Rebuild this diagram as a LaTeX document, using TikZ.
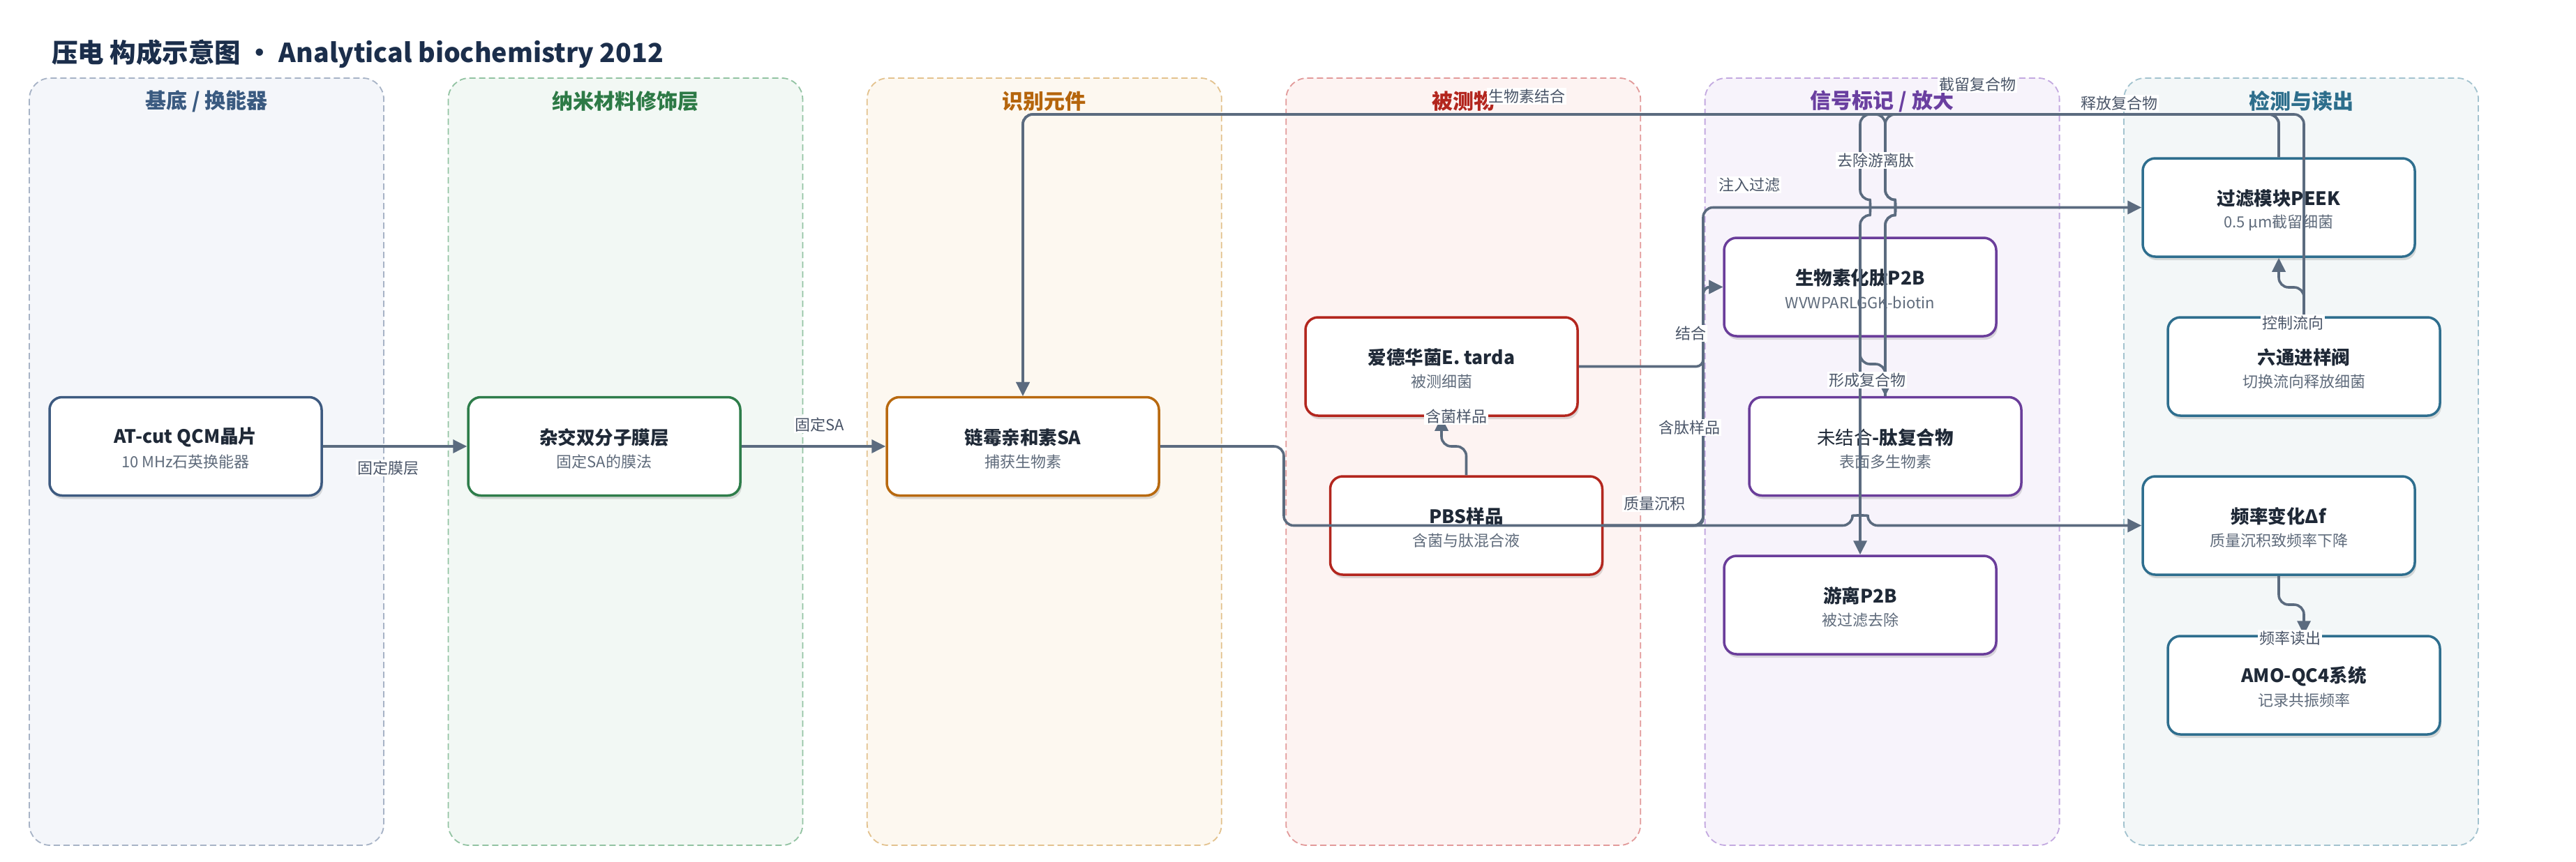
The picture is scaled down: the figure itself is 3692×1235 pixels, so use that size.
\documentclass[tikz,border=0pt]{standalone}
\usepackage{fontspec}
\setmainfont{Noto Sans CJK SC}
\usetikzlibrary{arrows.meta,shadows}
\definecolor{edgec}{HTML}{5B6B7F}
\definecolor{titlec}{HTML}{1B2E4B}
\definecolor{nodetxt}{HTML}{1F2937}
\definecolor{subtxt}{HTML}{5F6B7B}
\definecolor{lbltxt}{HTML}{4A5568}
\definecolor{laAf}{HTML}{F4F6FA}\definecolor{laAd}{HTML}{A7B3C6}\definecolor{laAt}{HTML}{3A5A80}
\definecolor{laBf}{HTML}{F2F8F4}\definecolor{laBd}{HTML}{92C3A2}\definecolor{laBt}{HTML}{2D7A46}
\definecolor{laCf}{HTML}{FDF8F0}\definecolor{laCd}{HTML}{E3C28E}\definecolor{laCt}{HTML}{B5650C}
\definecolor{laDf}{HTML}{FDF3F2}\definecolor{laDd}{HTML}{E29A9A}\definecolor{laDt}{HTML}{B3261E}
\definecolor{laEf}{HTML}{F7F3FB}\definecolor{laEd}{HTML}{C3A9E0}\definecolor{laEt}{HTML}{6A3FA0}
\definecolor{laFf}{HTML}{F3F7F8}\definecolor{laFd}{HTML}{A3C3CF}\definecolor{laFt}{HTML}{2D6E8C}
\definecolor{nA}{HTML}{3D5A80}
\definecolor{nB}{HTML}{2E7D4A}
\definecolor{nC}{HTML}{B8690F}
\definecolor{nD}{HTML}{B3261E}
\definecolor{nE}{HTML}{6A3D9A}
\definecolor{nF}{HTML}{2E6E8E}
\begin{document}
\begin{tikzpicture}[x=1pt,y=-1pt,
  lanebox/.style={dash pattern=on 9pt off 5pt, line width=1.8pt, rounded corners=30pt},
  lanettl/.style={font=\fontsize{30pt}{34pt}\selectfont\bfseries, inner sep=0pt},
  box/.style={draw=#1, line width=3.5pt, fill=white, rounded corners=18pt, minimum width=390pt, minimum height=141pt, inner sep=0pt, drop shadow={shadow xshift=2pt,shadow yshift=-5pt,opacity=0.13,fill=black}},
  ttl/.style={font=\fontsize{26.5pt}{30pt}\selectfont\bfseries, text=nodetxt, inner sep=0pt},
  sub/.style={font=\fontsize{22pt}{26pt}\selectfont, text=subtxt, inner sep=0pt},
  conn/.style={draw=edgec, line width=3.6pt, rounded corners=14pt},
  arr/.style={conn, -{Triangle[length=20pt,width=19pt]}},
  lbl/.style={fill=white, inner sep=2pt, font=\fontsize{22pt}{26pt}\selectfont, text=lbltxt},
]
\useasboundingbox (0,0) rectangle (3692,1235);
\fill[white] (0,0) rectangle (3692,1235);
% lanes
\draw[lanebox, draw=laAd, fill=laAf] (42,112) rectangle (550,1212);
\draw[lanebox, draw=laBd, fill=laBf] (642.4,112) rectangle (1150.4,1212);
\draw[lanebox, draw=laCd, fill=laCf] (1242.8,112) rectangle (1750.8,1212);
\draw[lanebox, draw=laDd, fill=laDf] (1843.2,112) rectangle (2351.2,1212);
\draw[lanebox, draw=laEd, fill=laEf] (2443.6,112) rectangle (2951.6,1212);
\draw[lanebox, draw=laFd, fill=laFf] (3044,112) rectangle (3552,1212);
\node[lanettl, text=laAt] (lt1) at (296,145) {基底 / 换能器};
\node[lanettl, text=laBt] (lt2) at (896.4,145) {纳米材料修饰层};
\node[lanettl, text=laCt] (lt3) at (1496.8,145) {识别元件};
\node[lanettl, text=laDt] (lt4) at (2097.2,145) {被测物};
\node[lanettl, text=laEt] (lt5) at (2697.6,145) {信号标记 / 放大};
\node[lanettl, text=laFt] (lt6) at (3298,145) {检测与读出};
% title
\node[anchor=west, font=\fontsize{37.5pt}{42pt}\selectfont\bfseries, text=titlec, inner sep=0pt] (title) at (74,77) {压电 构成示意图 · Analytical biochemistry 2012};
% nodes
\node[box=nA] (at) at (266,640) {};
\node[ttl] (atT) at ([yshift=13pt]at.center) {AT-cut QCM晶片};
\node[sub] (atS) at ([yshift=-22pt]at.center) {10 MHz石英换能器};
\node[box=nB] (hyb) at (866,640) {};
\node[ttl] (hybT) at ([yshift=13pt]hyb.center) {杂交双分子膜层};
\node[sub] (hybS) at ([yshift=-22pt]hyb.center) {固定SA的膜法};
\node[box=nC] (sa) at (1466,640) {};
\node[ttl] (saT) at ([yshift=13pt]sa.center) {链霉亲和素SA};
\node[sub] (saS) at ([yshift=-22pt]sa.center) {捕获生物素};
\node[box=nD] (ed) at (2066,525.5) {};
\node[ttl] (edT) at ([yshift=13pt]ed.center) {爱德华菌E. tarda};
\node[sub] (edS) at ([yshift=-22pt]ed.center) {被测细菌};
\node[box=nD] (pbs) at (2101.5,753.5) {};
\node[ttl] (pbsT) at ([yshift=13pt]pbs.center) {PBS样品};
\node[sub] (pbsS) at ([yshift=-22pt]pbs.center) {含菌与肽混合液};
\node[box=nE] (p2b) at (2666,411.5) {};
\node[ttl] (p2bT) at ([yshift=13pt]p2b.center) {生物素化肽P2B};
\node[sub] (p2bS) at ([yshift=-22pt]p2b.center) {WVWPARLGGK-biotin};
\node[box=nE] (unb) at (2702,640) {};
\node[ttl] (unbT) at ([yshift=13pt]unb.center) {{\mdseries 未结合}-肽复合物};
\node[sub] (unbS) at ([yshift=-22pt]unb.center) {表面多生物素};
\node[box=nE] (frp) at (2666,867.5) {};
\node[ttl] (frpT) at ([yshift=13pt]frp.center) {游离P2B};
\node[sub] (frpS) at ([yshift=-22pt]frp.center) {被过滤去除};
\node[box=nF] (flt) at (3266,297.5) {};
\node[ttl] (fltT) at ([yshift=13pt]flt.center) {过滤模块PEEK};
\node[sub] (fltS) at ([yshift=-22pt]flt.center) {0.5 μm截留细菌};
\node[box=nF] (vlv) at (3302,525.5) {};
\node[ttl] (vlvT) at ([yshift=13pt]vlv.center) {六通进样阀};
\node[sub] (vlvS) at ([yshift=-22pt]vlv.center) {切换流向释放细菌};
\node[box=nF] (frq) at (3266,753.5) {};
\node[ttl] (frqT) at ([yshift=13pt]frq.center) {频率变化Δf};
\node[sub] (frqS) at ([yshift=-22pt]frq.center) {质量沉积致频率下降};
\node[box=nF] (amo) at (3302,982.5) {};
\node[ttl] (amoT) at ([yshift=13pt]amo.center) {AMO-QC4系统};
\node[sub] (amoS) at ([yshift=-22pt]amo.center) {记录共振频率};
% connectors
\draw[arr] (at.east) -- (hyb.west);
\draw[arr] (hyb.east) -- (sa.west);
\draw[arr] (sa.east) -- (1840,640) -- (1840,753.5) -- (2655,753.5) .. controls (2655,738.8) and (2677,738.8) .. (2677,753.5) -- (frq.west);
\draw[arr] (pbs.north) -- (2101.5,640) -- (2066,640) -- (ed.south);
\draw[arr, rounded corners=10pt] (ed.east) -- (2441,525.5) -- (2441,411.5) -- (p2b.west);
\draw[arr, rounded corners=10pt] (pbs.east) -- (2441,753.5) -- (2441,411.5) -- (p2b.west);
\draw[arr] (pbs.east) -- (2441,753.5) -- (2441,297.5) -- (flt.west);
\draw[arr] (unb.north) -- (2702,308.5) .. controls (2716.7,308.5) and (2716.7,286.5) .. (2702,286.5) -- (2702,164) -- (1466,164) -- (sa.north);
\draw[arr] (flt.north) -- (3266,164) -- (2702,164) -- (2702,286.5) .. controls (2716.7,286.5) and (2716.7,308.5) .. (2702,308.5) -- (unb.north);
\draw[arr] (flt.north) -- (3266,164) -- (2666,164) -- (2666,286.5) .. controls (2680.7,286.5) and (2680.7,308.5) .. (2666,308.5) -- (frp.north);
\draw[arr] (vlv.north) -- (3302,164) -- (1466,164) -- (sa.north);
\draw[arr] (vlv.north) -- (3302,412) -- (3266,412) -- (flt.south);
\draw[arr] (frq.south) -- (3266,867) -- (3302,867) -- (amo.north);
\draw[arr] (p2b.south) -- (2666,522) -- (2702,522) -- (unb.north);
% labels
\node[lbl] (l1) at (556,671) {固定膜层};
\node[lbl] (l2) at (1175,609) {固定SA};
\node[lbl] (l3) at (2087,597) {含菌样品};
\node[lbl] (l4) at (2423,478) {结合};
\node[lbl] (l5) at (2421,613) {含肽样品};
\node[lbl] (l6) at (2371,722) {质量沉积};
\node[lbl] (l7) at (2507,265) {注入过滤};
\node[lbl] (l8) at (2688,230) {去除游离肽};
\node[lbl] (l9) at (2834,121) {截留复合物};
\node[lbl] (l10) at (3037,148) {释放复合物};
\node[lbl] (l11) at (2188,138) {生物素结合};
\node[lbl] (l12) at (2676,545) {形成复合物};
\node[lbl] (l13) at (3286,463) {控制流向};
\node[lbl] (l14) at (3282,915) {频率读出};
\end{tikzpicture}
\end{document}
